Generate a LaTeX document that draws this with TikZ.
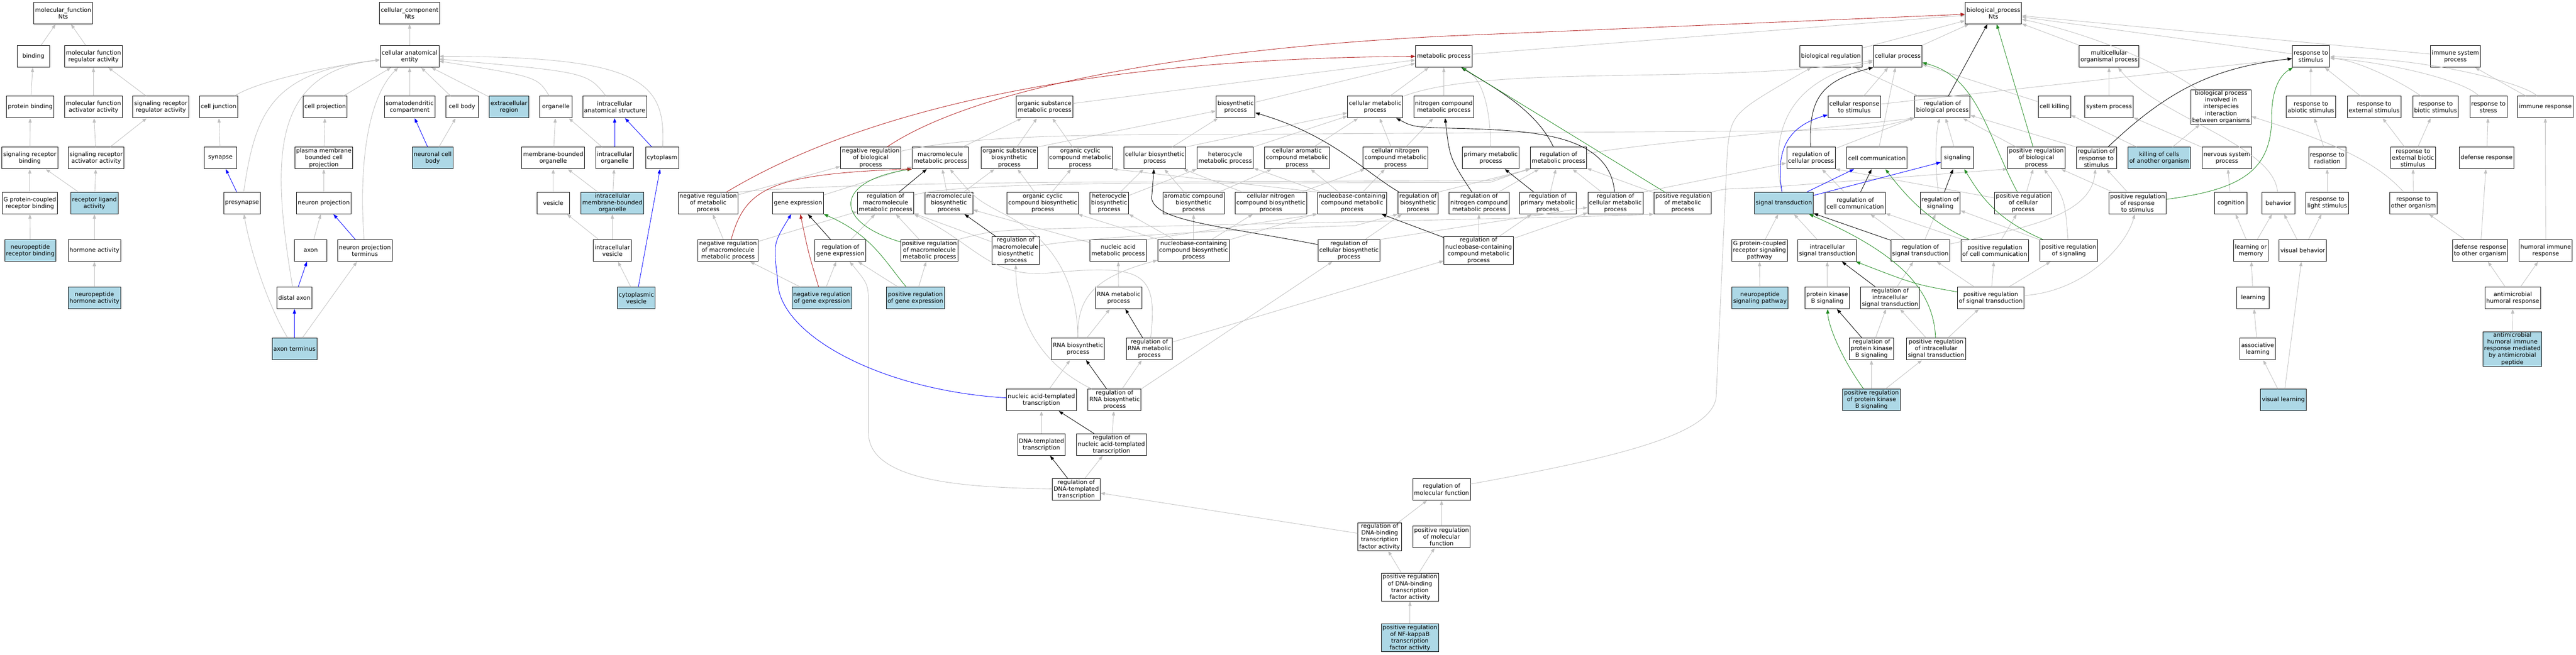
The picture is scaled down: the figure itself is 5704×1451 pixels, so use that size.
\documentclass[tikz,border=0pt]{standalone}
\usepackage{fontspec}
\setmainfont{DejaVu Sans}
\usetikzlibrary{arrows.meta}
\definecolor{edgegray}{RGB}{192,192,192}
\definecolor{studyblue}{RGB}{173,216,230}
\definecolor{posgreen}{RGB}{34,139,34}
\definecolor{negred}{RGB}{178,34,34}
\begin{document}
\begin{tikzpicture}[x=1pt,y=-1pt,
    goterm/.style={draw, line width=1pt, fill=white, align=center, minimum width=72pt, minimum height=48pt, inner xsep=3pt, inner ysep=2pt, font=\fontsize{13}{15}\selectfont},
    study/.style={goterm, fill=studyblue},
    isa/.style={draw=edgegray, line width=1pt, -{Triangle[length=10pt,width=7pt]}},
    regul/.style={isa, draw=black},
    posreg/.style={isa, draw=posgreen},
    negreg/.style={isa, draw=negred},
    partof/.style={isa, draw=blue}]
    \useasboundingbox (0,0) rectangle (5704,1451);
    % molecular function
    \node[goterm] (mf) at (140,29) {molecular\_function\\Nts};
    \node[goterm] (bind) at (74,125) {binding};
    \node[goterm] (mfreg) at (207,125) {molecular function\\regulator activity};
    \node[goterm] (pbind) at (67,237) {protein binding};
    \node[goterm] (mfact) at (207,237) {molecular function\\activator activity};
    \node[goterm] (srreg) at (356,237) {signaling receptor\\regulator activity};
    \node[goterm] (srbind) at (66,350) {signaling receptor\\binding};
    \node[goterm] (sract) at (213,350) {signaling receptor\\activator activity};
    \node[goterm] (gpcrb) at (66,450) {G protein-coupled\\receptor binding};
    \node[study] (rla) at (209,450) {receptor ligand\\activity};
    \node[study] (nprb) at (67,555) {neuropeptide\\receptor binding};
    \node[goterm] (horm) at (209,555) {hormone activity};
    \node[study] (nphorm) at (209,660) {neuropeptide\\hormone activity};
    % cellular component
    \node[goterm] (cc) at (907,29) {cellular\_component\\Nts};
    \node[goterm] (cae) at (907,125) {cellular anatomical\\entity};
    \node[goterm] (cjunc) at (484,237) {cell junction};
    \node[goterm] (cproj) at (720,237) {cell projection};
    \node[goterm] (somato) at (907,237) {somatodendritic\\compartment};
    \node[goterm] (cbody) at (1023,237) {cell body};
    \node[study] (extra) at (1127,237) {extracellular\\region};
    \node[goterm] (organelle) at (1231,237) {organelle};
    \node[goterm] (ias) at (1361,237) {intracellular\\anatomical structure};
    \node[goterm] (synapse) at (488,350) {synapse};
    \node[goterm] (pmbcp) at (717,350) {plasma membrane\\bounded cell\\projection};
    \node[study] (ncb) at (958,350) {neuronal cell\\body};
    \node[goterm] (mbo) at (1225,350) {membrane-bounded\\organelle};
    \node[goterm] (iorg) at (1361,350) {intracellular\\organelle};
    \node[goterm] (cyto) at (1466,350) {cytoplasm};
    \node[goterm] (presyn) at (536,450) {presynapse};
    \node[goterm] (nproj) at (717,450) {neuron projection};
    \node[goterm] (vesicle) at (1225,450) {vesicle};
    \node[study] (imbo) at (1356,450) {intracellular\\membrane-bounded\\organelle};
    \node[goterm] (axon) at (688,555) {axon};
    \node[goterm] (npt) at (808,555) {neuron projection\\terminus};
    \node[goterm] (ivesicle) at (1356,555) {intracellular\\vesicle};
    \node[goterm] (daxon) at (652,660) {distal axon};
    \node[study] (cvesicle) at (1409,660) {cytoplasmic\\vesicle};
    \node[study] (aterm) at (652,773) {axon terminus};
    % biological process
    \node[goterm] (bp) at (4414,29) {biological\_process\\Nts};
    \node[goterm] (mp) at (3197,125) {metabolic process};
    \node[goterm] (breg) at (4054,125) {biological regulation};
    \node[goterm] (cp) at (4202,125) {cellular process};
    \node[goterm] (mop) at (4670,125) {multicellular\\organismal process};
    \node[goterm] (rts) at (5117,125) {response to\\stimulus};
    \node[goterm] (isp) at (5437,125) {immune system\\process};
    \node[goterm] (osmp) at (2313,237) {organic substance\\metabolic process};
    \node[goterm] (bsp) at (2736,237) {biosynthetic\\process};
    \node[goterm] (cmp) at (3045,237) {cellular metabolic\\process};
    \node[goterm] (ncmp) at (3197,237) {nitrogen compound\\metabolic process};
    \node[goterm] (crs) at (4106,237) {cellular response\\to stimulus};
    \node[goterm] (rbp) at (4301,237) {regulation of\\biological process};
    \node[goterm] (ckill) at (4549,237) {cell killing};
    \node[goterm] (sysp) at (4670,237) {system process};
    \node[goterm] (inter) at (4918,237) {biological process\\involved in\\interspecies\\interaction\\between organisms};
    \node[goterm] (rabio) at (5117,237) {response to\\abiotic stimulus};
    \node[goterm] (rext) at (5257,237) {response to\\external stimulus};
    \node[goterm] (rbio) at (5393,237) {response to\\biotic stimulus};
    \node[goterm] (rstress) at (5510,237) {response to\\stress};
    \node[goterm] (immresp) at (5636,237) {immune response};
    \node[goterm] (nrbp) at (1928,350) {negative regulation\\of biological\\process};
    \node[goterm] (mmp) at (2082,350) {macromolecule\\metabolic process};
    \node[goterm] (osbp) at (2235,350) {organic substance\\biosynthetic\\process};
    \node[goterm] (occmp) at (2392,350) {organic cyclic\\compound metabolic\\process};
    \node[goterm] (cbp) at (2557,350) {cellular biosynthetic\\process};
    \node[goterm] (hmp) at (2713,350) {heterocycle\\metabolic process};
    \node[goterm] (camp) at (2872,350) {cellular aromatic\\compound metabolic\\process};
    \node[goterm] (cncmp) at (3090,350) {cellular nitrogen\\compound metabolic\\process};
    \node[goterm] (pmp) at (3301,350) {primary metabolic\\process};
    \node[goterm] (rmp) at (3451,350) {regulation of\\metabolic process};
    \node[goterm] (rcp) at (4010,350) {regulation of\\cellular process};
    \node[goterm] (ccomm) at (4156,350) {cell communication};
    \node[goterm] (signaling) at (4334,350) {signaling};
    \node[goterm] (prbp) at (4509,350) {positive regulation\\of biological\\process};
    \node[goterm] (rrts) at (4642,350) {regulation of\\response to\\stimulus};
    \node[study] (kcells) at (4781,350) {killing of cells\\of another organism};
    \node[goterm] (nsp) at (4931,350) {nervous system\\process};
    \node[goterm] (rrad) at (5153,350) {response to\\radiation};
    \node[goterm] (rebs) at (5343,350) {response to\\external biotic\\stimulus};
    \node[goterm] (defresp) at (5506,350) {defense response};
    \node[goterm] (nrmp) at (1568,450) {negative regulation\\of metabolic\\process};
    \node[goterm] (gexp) at (1767,450) {gene expression};
    \node[goterm] (rmmp) at (1961,450) {regulation of\\macromolecule\\metabolic process};
    \node[goterm] (mbp) at (2101,450) {macromolecule\\biosynthetic\\process};
    \node[goterm] (occbp) at (2309,450) {organic cyclic\\compound biosynthetic\\process};
    \node[goterm] (hbp) at (2456,450) {heterocycle\\biosynthetic\\process};
    \node[goterm] (acbp) at (2643,450) {aromatic compound\\biosynthetic\\process};
    \node[goterm] (cncbp) at (2814,450) {cellular nitrogen\\compound biosynthetic\\process};
    \node[goterm] (nbmp) at (2994,450) {nucleobase-containing\\compound metabolic\\process};
    \node[goterm] (rbsp) at (3140,450) {regulation of\\biosynthetic\\process};
    \node[goterm] (rncmp) at (3275,450) {regulation of\\nitrogen compound\\metabolic process};
    \node[goterm] (rpmp) at (3427,450) {regulation of\\primary metabolic\\process};
    \node[goterm] (rcmp) at (3577,450) {regulation of\\cellular metabolic\\process};
    \node[goterm] (prmp) at (3726,450) {positive regulation\\of metabolic\\process};
    \node[study] (sigtr) at (3950,450) {signal transduction};
    \node[goterm] (rcc) at (4108,450) {regulation of\\cell communication};
    \node[goterm] (rsig) at (4296,450) {regulation of\\signaling};
    \node[goterm] (prcp) at (4480,450) {positive regulation\\of cellular\\process};
    \node[goterm] (prrts) at (4733,450) {positive regulation\\of response\\to stimulus};
    \node[goterm] (cognition) at (4940,450) {cognition};
    \node[goterm] (behavior) at (5045,450) {behavior};
    \node[goterm] (rlight) at (5153,450) {response to\\light stimulus};
    \node[goterm] (rother) at (5344,450) {response to\\other organism};
    \node[goterm] (nrmmp) at (1612,555) {negative regulation\\of macromolecule\\metabolic process};
    \node[goterm] (rge) at (1861,555) {regulation of\\gene expression};
    \node[goterm] (prmmp) at (2058,555) {positive regulation\\of macromolecule\\metabolic process};
    \node[goterm] (rmbp) at (2249,555) {regulation of\\macromolecule\\biosynthetic\\process};
    \node[goterm] (namp) at (2476,555) {nucleic acid\\metabolic process};
    \node[goterm] (nbbp) at (2643,555) {nucleobase-containing\\compound biosynthetic\\process};
    \node[goterm] (rcbp) at (2987,555) {regulation of\\cellular biosynthetic\\process};
    \node[goterm] (rnbmp) at (3274,555) {regulation of\\nucleobase-containing\\compound metabolic\\process};
    \node[goterm] (gpcrsp) at (3896,555) {G protein-coupled\\receptor signaling\\pathway};
    \node[goterm] (ist) at (4046,555) {intracellular\\signal transduction};
    \node[goterm] (rst) at (4252,555) {regulation of\\signal transduction};
    \node[goterm] (prcc) at (4417,555) {positive regulation\\of cell communication};
    \node[goterm] (prsig) at (4581,555) {positive regulation\\of signaling};
    \node[goterm] (lom) at (4984,555) {learning or\\memory};
    \node[goterm] (visbeh) at (5099,555) {visual behavior};
    \node[goterm] (droo) at (5492,555) {defense response\\to other organism};
    \node[goterm] (humoral) at (5637,555) {humoral immune\\response};
    \node[study] (nrge) at (1820,660) {negative regulation\\of gene expression};
    \node[study] (prge) at (2027,660) {positive regulation\\of gene expression};
    \node[goterm] (rnamp) at (2477,660) {RNA metabolic\\process};
    \node[study] (npsp) at (3897,660) {neuropeptide\\signaling pathway};
    \node[goterm] (pkb) at (4046,660) {protein kinase\\B signaling};
    \node[goterm] (rist) at (4185,660) {regulation of\\intracellular\\signal transduction};
    \node[goterm] (prst) at (4408,660) {positive regulation\\of signal transduction};
    \node[goterm] (learning) at (4989,660) {learning};
    \node[goterm] (amhr) at (5564,660) {antimicrobial\\humoral response};
    \node[goterm] (rnabp) at (2387,773) {RNA biosynthetic\\process};
    \node[goterm] (rrnamp) at (2545,773) {regulation of\\RNA metabolic\\process};
    \node[goterm] (rpkb) at (4144,773) {regulation of\\protein kinase\\B signaling};
    \node[goterm] (prist) at (4287,773) {positive regulation\\of intracellular\\signal transduction};
    \node[goterm] (alearn) at (4999,773) {associative\\learning};
    \node[study] (amp) at (5563,773) {antimicrobial\\humoral immune\\response mediated\\by antimicrobial\\peptide};
    \node[goterm] (natt) at (2306,886) {nucleic acid-templated\\transcription};
    \node[goterm] (rrnabp) at (2468,886) {regulation of\\RNA biosynthetic\\process};
    \node[study] (prpkb) at (4144,886) {positive regulation\\of protein kinase\\B signaling};
    \node[study] (vlearn) at (5056,886) {visual learning};
    \node[goterm] (dtt) at (2306,985) {DNA-templated\\transcription};
    \node[goterm] (rnatt) at (2461,985) {regulation of\\nucleic acid-templated\\transcription};
    \node[goterm] (rdtt) at (2383,1084) {regulation of\\DNA-templated\\transcription};
    \node[goterm] (rmf) at (3192,1084) {regulation of\\molecular function};
    \node[goterm] (rdbtf) at (3055,1189) {regulation of\\DNA-binding\\transcription\\factor activity};
    \node[goterm] (prmf) at (3192,1189) {positive regulation\\of molecular\\function};
    \node[goterm] (prdbtf) at (3122,1301) {positive regulation\\of DNA-binding\\transcription\\factor activity};
    \node[study] (nfkb) at (3122,1413) {positive regulation\\of NF-kappaB\\transcription\\factor activity};

    % molecular function edges
    \draw[isa] (bind) -- (mf);
    \draw[isa] (mfreg) -- (mf);
    \draw[isa] (pbind) -- (bind);
    \draw[isa] (mfact) -- (mfreg);
    \draw[isa] (srreg) -- (mfreg);
    \draw[isa] (srbind) -- (pbind);
    \draw[isa] (sract) -- (mfact);
    \draw[isa] (sract) -- (srreg);
    \draw[isa] (gpcrb) -- (srbind);
    \draw[isa] (rla) -- (srbind);
    \draw[isa] (rla) -- (sract);
    \draw[isa] (nprb) -- (gpcrb);
    \draw[isa] (horm) -- (rla);
    \draw[isa] (nphorm) -- (horm);
    % cellular component edges
    \draw[isa] (cae) -- (cc);
    \draw[isa] (cjunc) .. controls (560,185) and (700,150) .. (cae);
    \draw[isa] (cproj) -- (cae);
    \draw[isa] (somato) -- (cae);
    \draw[isa] (cbody) -- (cae);
    \draw[isa] (extra) -- (cae);
    \draw[isa] (organelle) .. controls (1190,170) .. (cae);
    \draw[isa] (ias) .. controls (1300,160) .. (cae);
    \draw[isa] (cyto) .. controls (1475,180) and (1420,125) .. (cae);
    \draw[isa] (presyn) .. controls (565,250) and (600,160) .. (cae);
    \draw[isa] (daxon) .. controls (600,350) and (600,160) .. (cae);
    \draw[isa] (npt) .. controls (795,380) and (810,220) .. (cae);
    \draw[isa] (synapse) -- (cjunc);
    \draw[partof] (presyn) -- (synapse);
    \draw[isa] (pmbcp) -- (cproj);
    \draw[isa] (nproj) -- (pmbcp);
    \draw[isa] (axon) -- (nproj);
    \draw[partof] (npt) -- (nproj);
    \draw[partof] (daxon) -- (axon);
    \draw[partof] (aterm) -- (daxon);
    \draw[isa] (aterm) .. controls (595,680) and (555,560) .. (presyn);
    \draw[isa] (aterm) -- (npt);
    \draw[partof] (ncb) -- (somato);
    \draw[isa] (ncb) -- (cbody);
    \draw[isa] (mbo) -- (organelle);
    \draw[isa] (iorg) -- (organelle);
    \draw[partof] (iorg) -- (ias);
    \draw[partof] (cyto) -- (ias);
    \draw[isa] (vesicle) -- (mbo);
    \draw[isa] (imbo) -- (mbo);
    \draw[isa] (imbo) -- (iorg);
    \draw[isa] (ivesicle) -- (vesicle);
    \draw[isa] (ivesicle) -- (imbo);
    \draw[isa] (cvesicle) -- (ivesicle);
    \draw[partof] (cvesicle) -- (cyto);
    % biological process edges
    \draw[isa] (mp) -- (bp);
    \draw[isa] (breg) -- (bp);
    \draw[isa] (cp) -- (bp);
    \draw[isa] (mop) -- (bp);
    \draw[isa] (rts) -- (bp);
    \draw[isa] (isp) -- (bp);
    \draw[isa] (inter) .. controls (4800,150) and (4650,80) .. (bp);
    \draw[isa] (behavior) .. controls (5035,320) and (4780,260) .. (mop);
    \draw[isa] (cmp) -- (mp);
    \draw[isa] (cmp) .. controls (3300,140) and (3800,190) .. (cp);
    \draw[isa] (ncmp) -- (mp);
    \draw[isa] (osmp) -- (mp);
    \draw[isa] (bsp) -- (mp);
    \draw[isa] (crs) -- (cp);
    \draw[isa] (crs) -- (rts);
    \draw[isa] (rbp) -- (breg);
    \draw[regul] (rbp) -- (bp);
    \draw[isa] (ckill) -- (cp);
    \draw[isa] (sysp) -- (mop);
    \draw[isa] (rabio) -- (rts);
    \draw[isa] (rext) -- (rts);
    \draw[isa] (rbio) .. controls (5330,190) and (5230,135) .. (rts);
    \draw[isa] (rstress) .. controls (5460,180) and (5300,140) .. (rts);
    \draw[isa] (immresp) .. controls (5600,190) and (5400,130) .. (rts);
    \draw[isa] (immresp) -- (isp);
    \draw[isa] (nrbp) .. controls (2150,300) and (2400,298) .. (2700,298) -- (3950,290) .. controls (4150,285) .. (rbp.south west);
    \draw[isa] (mmp) -- (osmp);
    \draw[isa] (osbp) -- (osmp);
    \draw[isa] (osbp.north east) -- (bsp);
    \draw[isa] (occmp) -- (osmp);
    \draw[isa] (cbp) -- (bsp);
    \draw[isa] (cbp.north east) -- (cmp);
    \draw[isa] (hmp.north east) -- (cmp);
    \draw[isa] (camp) -- (cmp);
    \draw[isa] (cncmp) -- (cmp);
    \draw[isa] (cncmp) -- (ncmp);
    \draw[isa] (pmp) .. controls (3300,260) and (3290,180) .. (mp);
    \draw[isa] (rmp) .. controls (3700,310) and (4000,290) .. (rbp.south west);
    \draw[isa] (rcp) -- (rbp);
    \draw[isa] (ccomm) -- (cp);
    \draw[isa] (signaling) -- (rbp);
    \draw[isa] (prbp) -- (rbp);
    \draw[isa] (rrts.north west) -- (rbp);
    \draw[isa] (kcells) -- (ckill);
    \draw[isa] (kcells) -- (inter);
    \draw[isa] (nsp) -- (sysp);
    \draw[isa] (rrad) -- (rabio);
    \draw[isa] (rebs) -- (rext);
    \draw[isa] (rebs) -- (rbio);
    \draw[isa] (defresp) -- (rstress);
    \draw[isa] (nrmp) -- (nrbp);
    \draw[isa] (nrmp.north east) .. controls (1800,410) and (2200,403) .. (2600,403) -- (3300,400) -- (rmp.south west);
    \draw[isa] (gexp) -- (mmp);
    \draw[isa] (rmmp) .. controls (2100,410) and (2400,406) .. (2600,406) -- (3300,404) -- (rmp);
    \draw[isa] (mbp) -- (mmp);
    \draw[isa] (mbp) -- (osbp);
    \draw[isa] (occbp) -- (osbp);
    \draw[isa] (occbp) -- (occmp);
    \draw[isa] (hbp) -- (cbp);
    \draw[isa] (hbp) -- (hmp);
    \draw[isa] (acbp) -- (cbp);
    \draw[isa] (acbp) -- (camp);
    \draw[isa] (cncbp) -- (cbp);
    \draw[isa] (cncbp) -- (cncmp);
    \draw[isa] (nbmp) -- (camp);
    \draw[isa] (nbmp) -- (cncmp);
    \draw[isa] (nbmp) -- (hmp);
    \draw[isa] (nbmp.north west) -- (occmp.south east);
    \draw[isa] (rbsp.north east) -- (rmp.south west);
    \draw[isa] (rncmp) -- (rmp);
    \draw[isa] (rpmp) -- (rmp);
    \draw[isa] (rcmp) -- (rmp);
    \draw[isa] (rcmp.north east) -- (rcp);
    \draw[isa] (prmp) -- (rmp);
    \draw[isa] (prmp.north east) .. controls (3820,418) .. (3900,416) -- (prbp.south west);
    \draw[isa] (sigtr) .. controls (3920,300) and (3950,180) .. (cp);
    \draw[isa] (rcc) -- (rcp);
    \draw[isa] (rsig) .. controls (4285,380) and (4285,300) .. (rbp);
    \draw[isa] (prcp) -- (prbp);
    \draw[isa] (prcp) -- (rcp.south east);
    \draw[isa] (prrts) -- (rrts);
    \draw[isa] (prrts) -- (prbp);
    \draw[isa] (cognition) -- (nsp);
    \draw[isa] (rlight) -- (rrad);
    \draw[isa] (rother) -- (rebs);
    \draw[isa] (rother) .. controls (5260,355) and (5150,310) .. (inter);
    \draw[isa] (nrmmp) -- (nrmp);
    \draw[isa] (nrmmp) -- (rmmp);
    \draw[isa] (rge) -- (rmmp);
    \draw[isa] (prmmp) -- (rmmp);
    \draw[isa] (prmmp.north east) .. controls (2200,510) .. (2400,505) -- (3500,480) -- (prmp.south west);
    \draw[isa] (rmbp) -- (rmmp);
    \draw[isa] (rmbp) .. controls (2400,525) and (2800,505) .. (3000,500) -- (rbsp.south west);
    \draw[isa] (namp.north east) -- (nbmp.south west);
    \draw[isa] (namp) -- (mbp);
    \draw[isa] (nbbp) -- (occbp);
    \draw[isa] (nbbp) -- (hbp);
    \draw[isa] (nbbp) -- (acbp);
    \draw[isa] (nbbp) -- (cncbp);
    \draw[isa] (nbbp) -- (nbmp);
    \draw[isa] (rcbp) -- (rbsp);
    \draw[isa] (rcbp.north east) -- (rcmp);
    \draw[isa] (rnbmp) -- (rncmp);
    \draw[isa] (rnbmp) -- (rpmp);
    \draw[isa] (rnbmp) -- (rcmp);
    \draw[isa] (gpcrsp) -- (sigtr);
    \draw[isa] (ist) -- (sigtr);
    \draw[isa] (rst) -- (rsig);
    \draw[isa] (rst) -- (rcc);
    \draw[isa] (rst) .. controls (4480,505) and (4630,480) .. (rrts);
    \draw[isa] (prcc) -- (rcc);
    \draw[isa] (prcc) -- (prcp);
    \draw[isa] (prsig) -- (rsig);
    \draw[isa] (prsig) .. controls (4572,440) .. (prbp);
    \draw[isa] (lom) -- (cognition);
    \draw[isa] (lom) -- (behavior);
    \draw[isa] (visbeh) -- (behavior);
    \draw[isa] (visbeh) -- (rlight);
    \draw[isa] (droo) -- (defresp);
    \draw[isa] (droo) -- (rother);
    \draw[isa] (humoral) -- (immresp);
    \draw[isa] (nrge) -- (rge);
    \draw[isa] (nrge) -- (nrmmp);
    \draw[isa] (prge) -- (rge);
    \draw[isa] (prge) -- (prmmp);
    \draw[isa] (rnamp) -- (namp);
    \draw[isa] (npsp) -- (gpcrsp);
    \draw[isa] (pkb) -- (ist);
    \draw[isa] (rist) -- (rst);
    \draw[isa] (prst) -- (rst);
    \draw[isa] (prst) -- (prcc);
    \draw[isa] (prst) -- (prsig);
    \draw[isa] (prst) .. controls (4620,645) and (4710,540) .. (prrts);
    \draw[isa] (learning) -- (lom);
    \draw[isa] (amhr) -- (droo);
    \draw[isa] (amhr) -- (humoral);
    \draw[isa] (rnabp) -- (rnamp);
    \draw[isa] (rnabp) .. controls (2385,660) and (2420,615) .. (nbbp);
    \draw[isa] (rnabp) .. controls (2385,590) and (2300,510) .. (2215,470) .. controls (2160,440) .. (mmp);
    \draw[isa] (rrnamp) -- (rnbmp);
    \draw[isa] (rrnamp) .. controls (2565,600) and (2530,585) .. (2320,605) .. controls (2190,615) and (2160,540) .. (rmmp.south east);
    \draw[isa] (rpkb) -- (rist);
    \draw[isa] (prist) -- (rist);
    \draw[isa] (prist) -- (prst);
    \draw[isa] (alearn) -- (learning);
    \draw[isa] (amp) -- (amhr);
    \draw[isa] (natt) -- (rnabp);
    \draw[isa] (rrnabp) -- (rrnamp);
    \draw[isa] (rrnabp.north east) -- (rcbp);
    \draw[isa] (rrnabp) .. controls (2290,800) and (2250,690) .. (rmbp);
    \draw[isa] (prpkb) -- (rpkb);
    \draw[isa] (prpkb) -- (prist);
    \draw[isa] (vlearn) -- (alearn);
    \draw[isa] (vlearn) -- (visbeh);
    \draw[isa] (dtt) -- (natt);
    \draw[isa] (rnatt) -- (rrnabp);
    \draw[isa] (rdtt) -- (rnatt);
    \draw[isa] (rdtt) .. controls (2150,1080) and (1925,1070) .. (1923,960) -- (1923,680) .. controls (1923,630) .. (rge);
    \draw[isa] (rmf) .. controls (3600,1010) and (3790,960) .. (3800,880) -- (3825,330) .. controls (3835,250) .. (breg);
    \draw[isa] (rdbtf) -- (rmf);
    \draw[isa] (rdbtf) -- (rdtt);
    \draw[isa] (prmf) -- (rmf);
    \draw[isa] (prdbtf) -- (rdbtf);
    \draw[isa] (prdbtf) -- (prmf);
    \draw[isa] (nfkb) -- (prdbtf);
    % regulates
    \draw[regul] (rcp) .. controls (4005,220) and (4030,180) .. (cp.south west);
    \draw[regul] (rmp) .. controls (3400,240) and (3300,190) .. (mp);
    \draw[regul] (rcmp) .. controls (3565,300) and (3400,290) .. (3250,285) .. controls (3130,282) .. (cmp);
    \draw[regul] (rncmp) .. controls (3210,350) .. (ncmp);
    \draw[regul] (rpmp) -- (pmp);
    \draw[regul] (rbsp) .. controls (3020,380) and (2950,300) .. (bsp);
    \draw[regul] (rcbp) .. controls (2700,500) and (2560,490) .. (2550,440) -- (cbp);
    \draw[regul] (rmbp) -- (mbp);
    \draw[regul] (rmmp) -- (mmp);
    \draw[regul] (rnbmp) -- (nbmp);
    \draw[regul] (rge) -- (gexp);
    \draw[regul] (rrnamp) -- (rnamp);
    \draw[regul] (rrnabp) -- (rnabp);
    \draw[regul] (rnatt) -- (natt);
    \draw[regul] (rdtt) -- (dtt);
    \draw[regul] (rrts) .. controls (4800,200) and (4900,150) .. (rts);
    \draw[regul] (rcc) -- (ccomm);
    \draw[regul] (rsig) -- (signaling);
    \draw[regul] (rst) -- (sigtr);
    \draw[regul] (rist) -- (ist);
    \draw[regul] (rpkb) -- (pkb);
    % positively regulates
    \draw[posreg] (prbp) -- (bp);
    \draw[posreg] (prcp) .. controls (4400,300) and (4380,170) .. (cp);
    \draw[posreg] (prmp) -- (mp);
    \draw[posreg] (prmmp) .. controls (1840,490) and (1850,400) .. (mmp.south west);
    \draw[posreg] (prge) .. controls (1960,580) and (1930,520) .. (gexp);
    \draw[posreg] (prrts) .. controls (4960,420) and (5030,380) .. (5030,260) .. controls (5030,180) and (5060,160) .. (rts);
    \draw[posreg] (prcc) .. controls (4268,490) and (4217,430) .. (ccomm);
    \draw[posreg] (prsig) .. controls (4415,484) and (4383,429) .. (signaling);
    \draw[posreg] (prst) .. controls (4240,630) .. (ist);
    \draw[posreg] (prist) .. controls (4281,637) and (4200,560) .. (sigtr);
    \draw[posreg] (prpkb) .. controls (4075,790) and (4048,720) .. (pkb);
    % negatively regulates
    \draw[negreg] (nrbp) .. controls (2150,200) and (2600,110) .. (3200,80) -- (bp);
    \draw[negreg] (nrmp) .. controls (1850,280) and (2300,130) .. (mp.west);
    \draw[negreg] (nrmmp) .. controls (1650,420) and (1700,385) .. (mmp.south west);
    \draw[negreg] (nrge) .. controls (1790,560) .. (gexp);
    % part of
    \draw[partof] (natt) .. controls (1950,865) and (1720,740) .. (1722,620) .. controls (1712,540) .. (gexp);
    \draw[partof] (sigtr) .. controls (3930,330) and (3960,280) .. (crs);
    \draw[partof] (sigtr) -- (ccomm);
    \draw[partof] (sigtr) -- (signaling);
\end{tikzpicture}
\end{document}
